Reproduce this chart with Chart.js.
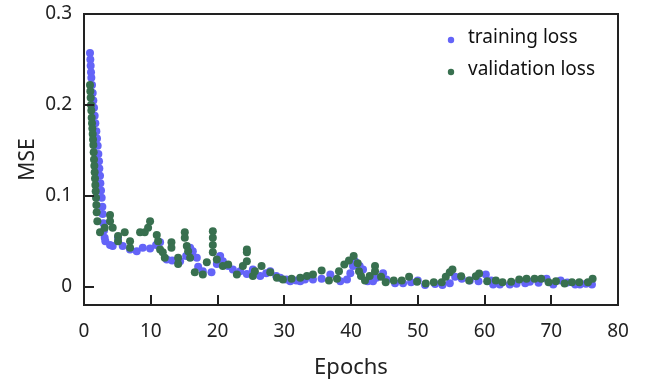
<!DOCTYPE html>
<html>
<head>
<meta charset="utf-8">
<script src="https://cdn.jsdelivr.net/npm/chart.js@4.4.1/dist/chart.umd.min.js"></script>
<style>
  html, body { margin: 0; padding: 0; background: #fff; }
  #wrap { width: 647px; height: 384px; }
</style>
</head>
<body>
<div id="wrap"><canvas id="lossChart" width="647" height="384"></canvas></div>
<script>
// loss per epoch (several readings inside the first epochs)
const trainEpoch = [0.9, 0.95, 1.0, 1.05, 1.1, 1.2, 1.3, 1.4, 1.5, 1.6, 1.7, 1.85, 1.95, 2.05, 2.15, 2.25, 2.3, 2.4, 2.45, 2.55,
  2.65, 2.75, 2.8, 2.9, 3.0, 3.1, 3.2,
  3.9, 4.3, 5.1, 5.8, 6.9, 7.9, 8.8, 9.9, 10.8, 11.4, 12.4, 13.2, 14.4, 15.3, 15.9, 16.3, 16.9, 17.1, 17.8, 19.1,
  19.9, 20.4, 20.8, 21.6, 22.3, 23.4, 24.4, 25.3, 26.4, 27.3, 27.9, 28.8, 29.4, 30.3, 30.9, 31.8, 32.4, 33.1, 34.3, 35.6,
  36.9, 38.4, 39.4, 39.9, 40.3, 40.6, 41.3, 41.8, 42.5, 43.3, 43.8, 44.8, 45.3, 46.6, 47.8, 49.0, 50.0, 51.1, 52.6, 53.7,
  54.8, 55.6, 56.6, 57.8, 59.1, 60.2, 61.0, 61.3, 62.3, 63.8, 64.8, 66.1, 66.8, 68.1, 69.3, 70.3, 71.4, 72.4, 73.6, 74.3,
  75.2, 76.1];
const trainLoss = [0.257, 0.250, 0.243, 0.236, 0.230, 0.222, 0.213, 0.205, 0.197, 0.188, 0.180, 0.171, 0.163, 0.155, 0.146, 0.138, 0.130, 0.122, 0.114, 0.106,
  0.098, 0.088, 0.080, 0.070, 0.062, 0.054, 0.050,
  0.046, 0.045, 0.054, 0.045, 0.041, 0.039, 0.043, 0.042, 0.046, 0.049, 0.030, 0.029, 0.028, 0.034, 0.043, 0.039, 0.032, 0.022, 0.017, 0.016,
  0.025, 0.034, 0.028, 0.023, 0.019, 0.017, 0.014, 0.019, 0.012, 0.015, 0.017, 0.012, 0.010, 0.008, 0.006, 0.007, 0.006, 0.008, 0.008, 0.009,
  0.0135, 0.006, 0.008, 0.015, 0.023, 0.028, 0.023, 0.019, 0.006, 0.006, 0.010, 0.015, 0.008, 0.004, 0.004, 0.005, 0.007, 0.002, 0.003, 0.002,
  0.004, 0.011, 0.009, 0.007, 0.006, 0.0135, 0.007, 0.0025, 0.0025, 0.0025, 0.0035, 0.004, 0.0055, 0.0045, 0.009, 0.0025, 0.007, 0.0047, 0.0025, 0.0025,
  0.0035, 0.0025];

const valEpoch = [0.9, 0.95, 1.0, 1.05, 1.1, 1.15, 1.2, 1.25, 1.3, 1.35, 1.4, 1.45, 1.5, 1.55, 1.6, 1.65, 1.7, 1.75, 1.8, 1.85, 1.9, 2.0,
  2.4, 3.1, 3.9, 3.9, 4.3, 5.1, 5.1, 6.1, 6.9, 6.9, 8.4, 9.1, 9.6, 9.9, 10.9, 11.1, 11.4, 11.8, 12.1, 13.1,
  13.1, 14.1, 14.1, 15.1, 15.1, 15.4, 15.6, 15.9, 16.6, 17.8, 18.4, 19.3, 19.3, 19.3, 19.3, 19.9, 20.8, 21.6, 22.9, 23.8,
  24.4, 24.4, 24.4, 25.3, 25.6, 26.6, 27.9, 28.9, 29.8, 31.1, 32.4, 33.4, 34.3, 35.6, 36.7, 37.9, 38.2, 39.0, 39.7, 40.4,
  41.0, 41.2, 41.5, 42.1, 42.8, 43.6, 43.6, 44.5, 45.2, 46.4, 47.6, 48.7, 49.9, 51.2, 52.4, 53.6, 54.2, 54.8, 55.2, 56.5,
  57.7, 58.7, 59.2, 60.4, 61.7, 62.7, 64.0, 65.2, 66.3, 67.5, 68.5, 69.6, 70.7, 72.0, 73.1, 74.2, 75.5, 76.2];
const valLoss = [0.222, 0.215, 0.208, 0.200, 0.194, 0.186, 0.180, 0.174, 0.168, 0.162, 0.156, 0.148, 0.140, 0.133, 0.126, 0.119, 0.112, 0.105, 0.098, 0.090, 0.082, 0.072,
  0.060, 0.065, 0.079, 0.072, 0.065, 0.056, 0.050, 0.060, 0.050, 0.043, 0.060, 0.060, 0.065, 0.072, 0.057, 0.050, 0.041, 0.038, 0.032, 0.049,
  0.043, 0.032, 0.025, 0.060, 0.054, 0.045, 0.039, 0.032, 0.016, 0.0135, 0.027, 0.061, 0.054, 0.046, 0.038, 0.030, 0.023, 0.0245, 0.0135, 0.023,
  0.041, 0.038, 0.028, 0.012, 0.017, 0.023, 0.016, 0.010, 0.008, 0.009, 0.010, 0.012, 0.0135, 0.018, 0.007, 0.009, 0.017, 0.0245, 0.029, 0.034,
  0.026, 0.017, 0.012, 0.007, 0.012, 0.023, 0.017, 0.011, 0.005, 0.007, 0.007, 0.011, 0.0055, 0.0036, 0.005, 0.005, 0.011, 0.016, 0.019, 0.0116,
  0.007, 0.0116, 0.0146, 0.006, 0.007, 0.005, 0.0055, 0.008, 0.009, 0.0088, 0.009, 0.005, 0.006, 0.0036, 0.005, 0.005, 0.005, 0.0088];

const xTicks = [0, 10, 20, 30, 40, 50, 60, 70, 80];
const yTicks = [0, 0.1, 0.2, 0.3];

const FONT = '"Noto Sans", "Open Sans", sans-serif';

function toPoints(xs, ys) {
    return xs.map((x, i) => ({ x: x, y: ys[i] }));
}

// box around the plot with short inward ticks
const frame = {
    id: 'frame',
    afterDatasetsDraw(chart) {
        const { ctx, chartArea: a, scales: { x, y } } = chart;
        ctx.save();
        ctx.strokeStyle = '#222';
        ctx.lineWidth = 2;
        ctx.strokeRect(a.left, a.top, a.right - a.left, a.bottom - a.top);
        ctx.beginPath();
        xTicks.forEach(v => {
            const px = Math.round(x.getPixelForValue(v));
            ctx.moveTo(px, a.bottom);
            ctx.lineTo(px, a.bottom - 10);
        });
        yTicks.forEach(v => {
            const py = Math.round(y.getPixelForValue(v));
            ctx.moveTo(a.left, py);
            ctx.lineTo(a.left + 10, py);
        });
        ctx.stroke();
        ctx.restore();
    }
};

// legend drawn inside the top right corner of the plot
const insideLegend = {
    id: 'insideLegend',
    afterDraw(chart) {
        const { ctx, chartArea: a } = chart;
        ctx.save();
        ctx.font = '19px ' + FONT;
        ctx.textBaseline = 'middle';
        chart.data.datasets.forEach((ds, i) => {
            const yy = a.top + 26 + i * 32;
            ctx.fillStyle = ds.backgroundColor;
            ctx.beginPath();
            ctx.arc(a.right - 167, yy, 3.2, 0, Math.PI * 2);
            ctx.fill();
            ctx.fillStyle = '#111';
            ctx.fillText(ds.label, a.right - 150, yy - 2);
        });
        ctx.restore();
    }
};

new Chart(document.getElementById('lossChart'), {
    type: 'scatter',
    data: {
        datasets: [{
            label: 'training loss',
            data: toPoints(trainEpoch, trainLoss),
            backgroundColor: '#6464f8',
            borderWidth: 0,
            pointRadius: 4,
            order: 2
        }, {
            label: 'validation loss',
            data: toPoints(valEpoch, valLoss),
            backgroundColor: '#38704f',
            borderWidth: 0,
            pointRadius: 4,
            order: 1
        }]
    },
    options: {
        responsive: false,
        animation: false,
        devicePixelRatio: 1,
        layout: { padding: { top: 14, right: 29, left: 0, bottom: 0 } },
        plugins: {
            legend: { display: false },
            tooltip: { enabled: false }
        },
        scales: {
            x: {
                type: 'linear',
                min: 0,
                max: 80,
                afterBuildTicks: s => { s.ticks = xTicks.map(v => ({ value: v })); },
                afterFit: s => { s.height = 79; s.paddingLeft = 0; s.paddingRight = 0; },
                grid: { display: false, drawTicks: false },
                border: { display: false },
                ticks: { color: '#222', padding: 15, font: { family: FONT, size: 19 } },
                title: { display: true, text: 'Epochs', color: '#222', padding: { top: 0, bottom: 3 }, font: { family: FONT, size: 22 } }
            },
            y: {
                min: -0.02,
                max: 0.3,
                afterBuildTicks: s => { s.ticks = yTicks.map(v => ({ value: v })); },
                afterFit: s => { s.width = 84; s.paddingTop = 0; s.paddingBottom = 0; },
                grid: { display: false, drawTicks: false },
                border: { display: false },
                ticks: {
                    color: '#222',
                    padding: 12,
                    font: { family: FONT, size: 19 },
                    callback: v => (v === 0 ? '0' : v.toFixed(1))
                },
                title: { display: true, text: 'MSE', color: '#222', padding: { top: 15, bottom: 0 }, font: { family: FONT, size: 21 } }
            }
        }
    },
    plugins: [frame, insideLegend]
});
</script>
</body>
</html>
